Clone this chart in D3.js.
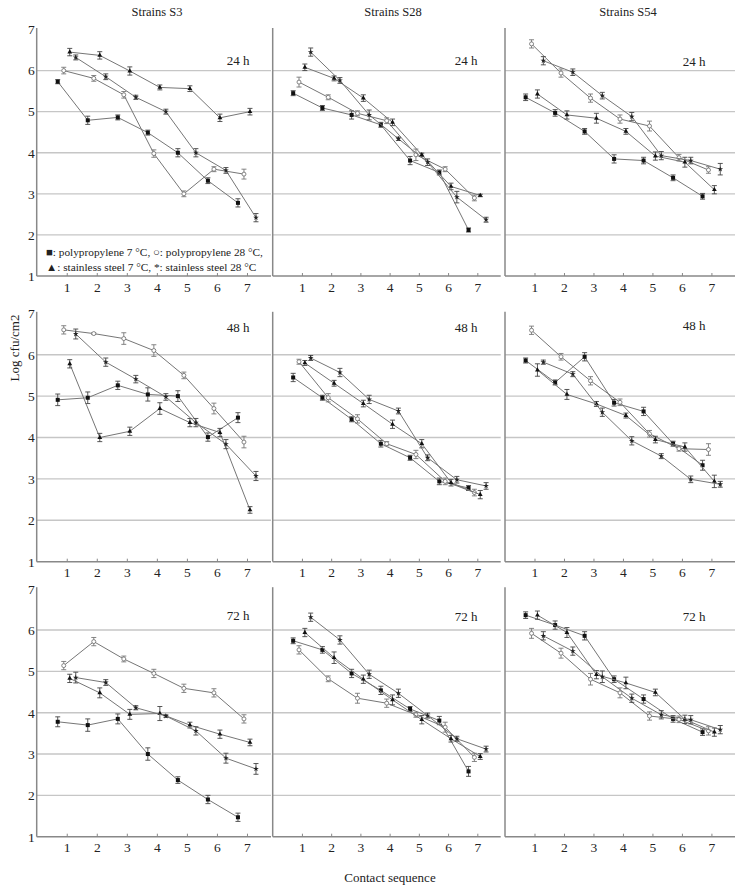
<!DOCTYPE html>
<html><head><meta charset="utf-8">
<script src="https://cdn.jsdelivr.net/npm/d3@7"></script>
<style>
html,body{margin:0;padding:0;background:#fff;}
svg text{font-family:"Liberation Serif","Times New Roman",serif;fill:#222;}
</style></head>
<body>
<svg id="chart" width="743" height="890"></svg>
<script>
// ---------- DATA ----------
const contacts = [1, 2, 3, 4, 5, 6, 7];
const yTicks = [1, 2, 3, 4, 5, 6, 7];
const gridValues = [2, 3, 4, 5, 6];
const strains = ["Strains S3", "Strains S28", "Strains S54"];
const times = ["24 h", "48 h", "72 h"];
const seriesNames = ["polypropylene 7 °C", "polypropylene 28 °C", "stainless steel 7 °C", "stainless steel 28 °C"];
const legendLines = ["■: polypropylene 7 °C, ○: polypropylene 28 °C,", "▲: stainless steel 7 °C, *: stainless steel 28 °C"];

// S3
const S3_24_pp7  = [5.73, 4.79, 4.86, 4.49, 4.00, 3.32, 2.78];
const S3_24_pp28 = [6.00, 5.81, 5.41, 3.98, 3.00, 3.60, 3.48];
const S3_24_ss7  = [6.45, 6.37, 5.99, 5.59, 5.56, 4.85, 5.00];
const S3_24_ss28 = [6.32, 5.85, 5.35, 5.00, 4.00, 3.57, 2.42];
const S3_48_pp7  = [4.91, 4.96, 5.26, 5.04, 5.00, 4.01, 4.48];
const S3_48_pp28 = [6.60, 6.51, 6.39, 6.10, 5.50, 4.70, 3.89];
const S3_48_ss7  = [5.78, 4.00, 4.15, 4.70, 4.36, 4.12, 2.25];
const S3_48_ss28 = [6.50, 5.82, 5.41, 4.98, 4.36, 3.84, 3.07];
const S3_72_pp7  = [3.78, 3.70, 3.85, 3.00, 2.37, 1.90, 1.47];
const S3_72_pp28 = [5.14, 5.72, 5.30, 4.95, 4.59, 4.48, 3.85];
const S3_72_ss7  = [4.83, 4.48, 3.96, 3.98, 3.70, 3.48, 3.28];
const S3_72_ss28 = [4.85, 4.73, 4.12, 3.92, 3.56, 2.90, 2.64];
// S28
const S28_24_pp7  = [5.45, 5.09, 4.92, 4.68, 3.81, 3.52, 2.12];
const S28_24_pp28 = [5.72, 5.35, 4.96, 4.78, 3.95, 3.60, 2.90];
const S28_24_ss7  = [6.08, 5.81, 5.33, 4.74, 3.95, 3.18, 2.96];
const S28_24_ss28 = [6.45, 5.76, 4.92, 4.34, 3.77, 2.92, 2.37];
const S28_48_pp7  = [5.45, 4.96, 4.44, 3.85, 3.51, 2.94, 2.78];
const S28_48_pp28 = [5.83, 4.96, 4.45, 3.85, 3.59, 2.94, 2.67];
const S28_48_ss7  = [5.80, 5.31, 4.82, 4.32, 3.85, 2.91, 2.62];
const S28_48_ss28 = [5.92, 5.57, 4.92, 4.64, 3.51, 2.98, 2.83];
const S28_72_pp7  = [5.74, 5.52, 4.95, 4.54, 4.09, 3.81, 2.58];
const S28_72_pp28 = [5.52, 4.82, 4.35, 4.23, 3.95, 3.65, 2.92];
const S28_72_ss7  = [5.94, 5.33, 4.81, 4.31, 3.83, 3.37, 2.94];
const S28_72_ss28 = [6.31, 5.76, 4.93, 4.47, 3.93, 3.37, 3.12];
// S54
const S54_24_pp7  = [5.35, 4.97, 4.52, 3.85, 3.81, 3.39, 2.94];
const S54_24_pp28 = [6.65, 5.94, 5.33, 4.82, 4.65, 3.88, 3.58];
const S54_24_ss7  = [5.43, 4.92, 4.84, 4.52, 3.92, 3.77, 3.10];
const S54_24_ss28 = [6.24, 5.96, 5.39, 4.88, 3.93, 3.81, 3.60];
const S54_48_pp7  = [5.86, 5.33, 5.95, 4.84, 4.63, 3.85, 3.33];
const S54_48_pp28 = [6.59, 5.95, 5.37, 4.85, 4.09, 3.73, 3.71];
const S54_48_ss7  = [5.63, 5.04, 4.81, 4.53, 3.95, 3.77, 2.94];
const S54_48_ss28 = [5.82, 5.53, 4.61, 3.92, 3.55, 2.99, 2.87];
const S54_72_pp7  = [6.36, 6.12, 5.86, 4.81, 4.33, 3.85, 3.53];
const S54_72_pp28 = [5.92, 5.44, 4.81, 4.48, 3.92, 3.84, 3.56];
const S54_72_ss7  = [6.36, 5.94, 4.92, 4.72, 4.49, 3.84, 3.53];
const S54_72_ss28 = [5.86, 5.49, 4.87, 4.35, 3.95, 3.83, 3.59];

// error bars (± half-width, log units)
const S3_24_pp7_err  = [0.05, 0.10, 0.06, 0.06, 0.10, 0.07, 0.10];
const S3_24_pp28_err = [0.08, 0.07, 0.08, 0.09, 0.07, 0.06, 0.12];
const S3_24_ss7_err  = [0.09, 0.09, 0.10, 0.06, 0.07, 0.09, 0.08];
const S3_24_ss28_err = [0.06, 0.07, 0.05, 0.06, 0.10, 0.07, 0.10];
const S3_48_pp7_err  = [0.14, 0.14, 0.10, 0.16, 0.13, 0.10, 0.12];
const S3_48_pp28_err = [0.10, 0.02, 0.14, 0.14, 0.08, 0.13, 0.14];
const S3_48_ss7_err  = [0.10, 0.10, 0.10, 0.14, 0.10, 0.10, 0.08];
const S3_48_ss28_err = [0.12, 0.10, 0.09, 0.08, 0.10, 0.11, 0.11];
const S3_72_pp7_err  = [0.12, 0.15, 0.12, 0.15, 0.08, 0.10, 0.10];
const S3_72_pp28_err = [0.10, 0.10, 0.07, 0.10, 0.10, 0.10, 0.10];
const S3_72_ss7_err  = [0.10, 0.12, 0.12, 0.17, 0.07, 0.10, 0.08];
const S3_72_ss28_err = [0.13, 0.07, 0.05, 0.03, 0.10, 0.12, 0.13];
const S28_24_pp7_err  = [0.06, 0.06, 0.10, 0.06, 0.10, 0.06, 0.05];
const S28_24_pp28_err = [0.12, 0.06, 0.06, 0.07, 0.14, 0.06, 0.07];
const S28_24_ss7_err  = [0.08, 0.06, 0.08, 0.08, 0.04, 0.08, 0.03];
const S28_24_ss28_err = [0.10, 0.07, 0.12, 0.04, 0.08, 0.14, 0.06];
const S28_48_pp7_err  = [0.10, 0.06, 0.06, 0.08, 0.06, 0.08, 0.06];
const S28_48_pp28_err = [0.06, 0.10, 0.10, 0.05, 0.10, 0.08, 0.08];
const S28_48_ss7_err  = [0.06, 0.07, 0.08, 0.10, 0.10, 0.08, 0.10];
const S28_48_ss28_err = [0.06, 0.10, 0.10, 0.07, 0.07, 0.08, 0.08];
const S28_72_pp7_err  = [0.07, 0.08, 0.10, 0.10, 0.06, 0.10, 0.12];
const S28_72_pp28_err = [0.10, 0.07, 0.12, 0.10, 0.06, 0.12, 0.10];
const S28_72_ss7_err  = [0.10, 0.14, 0.10, 0.12, 0.10, 0.08, 0.07];
const S28_72_ss28_err = [0.10, 0.10, 0.10, 0.10, 0.06, 0.06, 0.07];
const S54_24_pp7_err  = [0.08, 0.08, 0.07, 0.10, 0.08, 0.07, 0.07];
const S54_24_pp28_err = [0.10, 0.10, 0.10, 0.10, 0.12, 0.08, 0.08];
const S54_24_ss7_err  = [0.10, 0.10, 0.12, 0.07, 0.10, 0.12, 0.10];
const S54_24_ss28_err = [0.10, 0.08, 0.08, 0.10, 0.10, 0.08, 0.14];
const S54_48_pp7_err  = [0.06, 0.06, 0.10, 0.08, 0.10, 0.06, 0.12];
const S54_48_pp28_err = [0.10, 0.08, 0.10, 0.08, 0.08, 0.06, 0.14];
const S54_48_ss7_err  = [0.15, 0.12, 0.06, 0.06, 0.08, 0.10, 0.15];
const S54_48_ss28_err = [0.05, 0.06, 0.10, 0.10, 0.06, 0.08, 0.07];
const S54_72_pp7_err  = [0.08, 0.10, 0.10, 0.08, 0.10, 0.08, 0.08];
const S54_72_pp28_err = [0.12, 0.12, 0.14, 0.12, 0.10, 0.08, 0.10];
const S54_72_ss7_err  = [0.10, 0.12, 0.10, 0.14, 0.08, 0.10, 0.10];
const S54_72_ss28_err = [0.10, 0.10, 0.14, 0.10, 0.10, 0.10, 0.10];

// panel table built from the arrays
const panels = [
  {col:0,row:0, vals:[S3_24_pp7,S3_24_pp28,S3_24_ss7,S3_24_ss28], errs:[S3_24_pp7_err,S3_24_pp28_err,S3_24_ss7_err,S3_24_ss28_err]},
  {col:1,row:0, vals:[S28_24_pp7,S28_24_pp28,S28_24_ss7,S28_24_ss28], errs:[S28_24_pp7_err,S28_24_pp28_err,S28_24_ss7_err,S28_24_ss28_err]},
  {col:2,row:0, vals:[S54_24_pp7,S54_24_pp28,S54_24_ss7,S54_24_ss28], errs:[S54_24_pp7_err,S54_24_pp28_err,S54_24_ss7_err,S54_24_ss28_err]},
  {col:0,row:1, vals:[S3_48_pp7,S3_48_pp28,S3_48_ss7,S3_48_ss28], errs:[S3_48_pp7_err,S3_48_pp28_err,S3_48_ss7_err,S3_48_ss28_err]},
  {col:1,row:1, vals:[S28_48_pp7,S28_48_pp28,S28_48_ss7,S28_48_ss28], errs:[S28_48_pp7_err,S28_48_pp28_err,S28_48_ss7_err,S28_48_ss28_err]},
  {col:2,row:1, vals:[S54_48_pp7,S54_48_pp28,S54_48_ss7,S54_48_ss28], errs:[S54_48_pp7_err,S54_48_pp28_err,S54_48_ss7_err,S54_48_ss28_err]},
  {col:0,row:2, vals:[S3_72_pp7,S3_72_pp28,S3_72_ss7,S3_72_ss28], errs:[S3_72_pp7_err,S3_72_pp28_err,S3_72_ss7_err,S3_72_ss28_err]},
  {col:1,row:2, vals:[S28_72_pp7,S28_72_pp28,S28_72_ss7,S28_72_ss28], errs:[S28_72_pp7_err,S28_72_pp28_err,S28_72_ss7_err,S28_72_ss28_err]},
  {col:2,row:2, vals:[S54_72_pp7,S54_72_pp28,S54_72_ss7,S54_72_ss28], errs:[S54_72_pp7_err,S54_72_pp28_err,S54_72_ss7_err,S54_72_ss28_err]}
];

// ---------- LAYOUT ----------
const colBox = [{x0:36.7, x1:271}, {x0:272.7, x1:500.7}, {x0:505, x1:735}];
const rowBox = [{yTop:29.5, yBot:276}, {yTop:313.3, yBot:561.7}, {yTop:588.7, yBot:836.7}];
const xDomain = [0, 7.8];
const offsets = [-0.3, -0.1, 0.1, 0.3];
const timeLabelPos = [[238,[60,327,615]],[466,[60,327,616]],[694,[61,325,616]]];

const svg = d3.select("#chart");

panels.forEach(p => {
  const cb = colBox[p.col], rb = rowBox[p.row];
  const x = d3.scaleLinear().domain(xDomain).range([cb.x0, cb.x1]);
  const y = d3.scaleLinear().domain([1, 7]).range([rb.yBot, rb.yTop]);
  const g = svg.append("g");

  // grid
  g.selectAll("line.grid").data(gridValues).join("line")
    .attr("x1", cb.x0).attr("x2", cb.x1)
    .attr("y1", d => y(d)).attr("y2", d => y(d))
    .attr("stroke", "#c6c6c6").attr("stroke-width", 1.4);

  // x axis
  const xAxis = d3.axisBottom(x).tickValues(contacts).tickSize(0).tickPadding(6).tickFormat(d3.format("d"));
  const gx = g.append("g").attr("transform", `translate(0,${rb.yBot})`).call(xAxis);
  gx.select(".domain").attr("stroke", "#888").attr("stroke-width", 1.5).attr("d", `M${cb.x0},0H${cb.x1}`);
  gx.selectAll("text").attr("font-size", 13.5).attr("fill", "#333");
  gx.selectAll(".tick").append("line").attr("y1", 0).attr("y2", -3).attr("stroke", "#888");

  // y axis
  const yAxis = d3.axisLeft(y).tickValues(yTicks).tickSize(0).tickPadding(2).tickFormat(d3.format("d"));
  const gy = g.append("g").attr("transform", `translate(${cb.x0},0)`).call(yAxis);
  gy.select(".domain").attr("stroke", "#888").attr("stroke-width", 1.5).attr("d", `M0,${rb.yTop - 1.5}V${rb.yBot}`);
  gy.selectAll("text").attr("font-size", 13.5).attr("fill", "#333");
  if (p.col !== 0) gy.selectAll(".tick text").remove();

  // series
  p.vals.forEach((vals, si) => {
    const pts = vals.map((v, i) => ({x: contacts[i] + offsets[si], y: v, e: p.errs[si][i]}));
    const line = d3.line().x(d => x(d.x)).y(d => y(d.y));
    g.append("path").datum(pts).attr("d", line)
      .attr("fill", "none").attr("stroke", "#767676").attr("stroke-width", 1);
    // error bars
    const eb = g.append("g").attr("stroke", si === 1 ? "#777" : "#444").attr("stroke-width", 0.9);
    pts.forEach(d => {
      const cx = x(d.x), yt = y(d.y + d.e), yb = y(d.y - d.e);
      eb.append("line").attr("x1", cx).attr("x2", cx).attr("y1", yt).attr("y2", yb);
      eb.append("line").attr("x1", cx - 2.5).attr("x2", cx + 2.5).attr("y1", yt).attr("y2", yt);
      eb.append("line").attr("x1", cx - 2.5).attr("x2", cx + 2.5).attr("y1", yb).attr("y2", yb);
    });
    // markers
    const mg = g.append("g");
    pts.forEach(d => {
      const cx = x(d.x), cy = y(d.y);
      if (si === 0) {
        mg.append("rect").attr("x", cx - 2).attr("y", cy - 2).attr("width", 4).attr("height", 4).attr("fill", "#111");
      } else if (si === 1) {
        mg.append("circle").attr("cx", cx).attr("cy", cy).attr("r", 2).attr("fill", "#fff").attr("stroke", "#777").attr("stroke-width", 0.9);
      } else if (si === 2) {
        mg.append("path").attr("d", d3.symbol().type(d3.symbolTriangle).size(10)()).attr("transform", `translate(${cx},${cy})`).attr("fill", "#111");
      } else {
        mg.append("path").attr("d", d3.symbol().type(d3.symbolStar).size(10)()).attr("transform", `translate(${cx},${cy})`).attr("fill", "#222");
      }
    });
  });

  // time label
  const tl = timeLabelPos[p.col];
  g.append("text").attr("x", tl[0]).attr("y", tl[1][p.row]).attr("dy", "0.35em")
    .attr("text-anchor", "middle").attr("font-size", 13).text(times[p.row]);
});

// strain titles
strains.forEach((s, i) => {
  svg.append("text").attr("x", [157, 393, 628][i]).attr("y", 12).attr("dy", "0.35em")
    .attr("text-anchor", "middle").attr("font-size", 12.5).text(s);
});

// legend inside first panel
legendLines.forEach((t, i) => {
  svg.append("text").attr("x", 46).attr("y", 252 + i * 15).attr("dy", "0.35em")
    .attr("font-size", 11.3).text(t);
});

// axis titles
svg.append("text").attr("transform", "translate(14,348) rotate(-90)").attr("dy", "0.35em")
  .attr("text-anchor", "middle").attr("font-size", 13).text("Log cfu/cm2");
svg.append("text").attr("x", 390).attr("y", 877).attr("dy", "0.35em")
  .attr("text-anchor", "middle").attr("font-size", 13).text("Contact sequence");
</script>
</body></html>
